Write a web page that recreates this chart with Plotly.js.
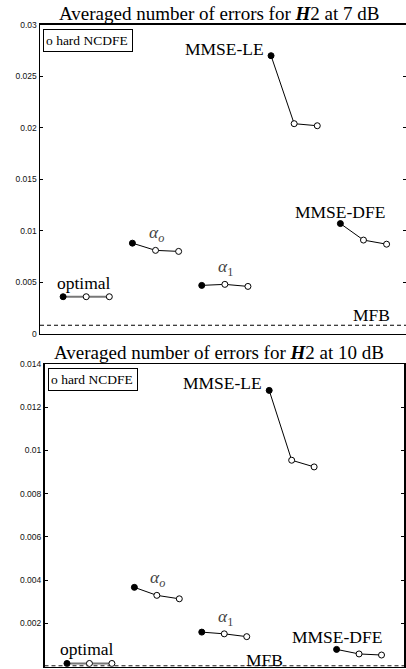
<!DOCTYPE html>
<html><head><meta charset="utf-8">
<script src="https://cdn.plot.ly/plotly-3.0.1.min.js"></script>
<style>html,body{margin:0;padding:0;background:#fff}</style>
</head><body><div id="chart" style="width:406px;height:669px"></div>
<script>
// ---- data ----
const groupLabels = ['optimal', '<i>α<sub>o</sub></i>', '<i>α</i><sub>1</sub>', 'MMSE-LE', 'MMSE-DFE'];
const groupX = [[1, 2, 3], [4, 5, 6], [7, 8, 9], [10, 11, 12], [13, 14, 15]];

const err7_optimal = [0.0036, 0.0036, 0.0036];
const err7_alpha0 = [0.0088, 0.0081, 0.0080];
const err7_alpha1 = [0.0047, 0.0048, 0.0046];
const err7_mmsele = [0.0270, 0.0204, 0.0202];
const err7_mmsedfe = [0.0107, 0.0091, 0.0087];
const mfb7 = 0.00083;

const err10_optimal = [0.00015, 0.00015, 0.00015];
const err10_alpha0 = [0.00367, 0.0033, 0.00314];
const err10_alpha1 = [0.0016, 0.00152, 0.00139];
const err10_mmsele = [0.01278, 0.00955, 0.00924];
const err10_mmsedfe = [0.0008, 0.00059, 0.00054];
const mfb10 = 0.00004;

const ticks7 = [0, 0.005, 0.01, 0.015, 0.02, 0.025, 0.03];
const ticks10 = [0, 0.002, 0.004, 0.006, 0.008, 0.01, 0.012, 0.014];

const titles = ['Averaged number of errors for <b><i>H</i></b>2 at 7 dB',
                'Averaged number of errors for <b><i>H</i></b>2 at 10 dB'];
const legendText = 'o hard NCDFE';
const mfbLabel = 'MFB';

// ---- build ----
const W = 406, H = 669;
const serif = "'Liberation Serif', 'Times New Roman', Times, serif";
const sans = "'Liberation Sans', Arial, Helvetica, sans-serif";

const panels = [
  {series: [err7_optimal, err7_alpha0, err7_alpha1, err7_mmsele, err7_mmsedfe], mfb: mfb7,
   ticks: ticks7, xa: 'x', ya: 'y', title: titles[0], mfbX: 0.905, mfbShift: -2},
  {series: [err10_optimal, err10_alpha0, err10_alpha1, err10_mmsele, err10_mmsedfe], mfb: mfb10,
   ticks: ticks10, xa: 'x2', ya: 'y2', title: titles[1], mfbX: 0.613, mfbShift: -6}
];

const traces = [];
const annotations = [];
panels.forEach((p, pi) => {
  traces.push({x: [0, 16.5], y: [p.mfb, p.mfb], xaxis: p.xa, yaxis: p.ya, mode: 'lines',
    line: {color: '#000', width: 1, dash: '4px,3px'}, hoverinfo: 'skip'});
  p.series.forEach((vals, gi) => {
    traces.push({x: groupX[gi], y: vals, xaxis: p.xa, yaxis: p.ya, mode: 'lines+markers',
      line: {color: gi === 0 ? '#777' : '#000', width: gi === 0 ? 2 : 1},
      marker: {size: 6, color: vals.map((v, i) => i === 0 ? '#000' : '#fff'),
               line: {color: '#000', width: 1}}});
    let a = {xref: p.xa, yref: p.ya, text: groupLabels[gi], showarrow: false,
             font: {family: serif, size: 17.5, color: '#000'}};
    if (gi === 0) Object.assign(a, {x: groupX[gi][1], y: vals[1], xanchor: 'center', yanchor: 'bottom', xshift: -2, yshift: 2});
    else if (gi === 1 || gi === 2) Object.assign(a, {x: groupX[gi][1], y: vals[1], xanchor: 'center', yanchor: 'bottom', xshift: 1, yshift: 3, font: {family: serif, size: 17.5, color: '#444'}});
    else if (gi === 3) Object.assign(a, {x: groupX[gi][0], y: vals[0], xanchor: 'right', yanchor: 'bottom', xshift: -5, yshift: -5});
    else Object.assign(a, {x: groupX[gi][0], y: vals[0], xanchor: 'center', yanchor: 'bottom', xshift: 0, yshift: 0});
    annotations.push(a);
  });
  annotations.push({xref: p.xa + ' domain', yref: p.ya, x: p.mfbX, y: p.mfb, xanchor: 'center', yanchor: 'bottom',
    yshift: p.mfbShift, text: mfbLabel, showarrow: false, font: {family: serif, size: 17.5, color: '#000'}});
  annotations.push({xref: 'paper', yref: p.ya + ' domain', x: 218.5 / W, y: 1, xanchor: 'center', yanchor: 'bottom',
    yshift: -1, text: p.title, showarrow: false, font: {family: serif, size: 19, color: '#000'}});
  annotations.push({xref: p.xa + ' domain', yref: p.ya + ' domain', x: 0, y: 1, xanchor: 'left', yanchor: 'top',
    xshift: 3, yshift: -4, text: legendText, showarrow: false, align: 'left', width: 84, height: 17,
    bordercolor: '#000', borderwidth: 1, borderpad: 2, bgcolor: '#fff',
    font: {family: serif, size: 13.5, color: '#000'}});
});

const yaxisBase = (ticks) => ({range: [0, ticks[ticks.length - 1]], tickvals: ticks, ticks: 'inside', ticklen: 3,
  tickcolor: '#000', showline: true, linecolor: '#000', linewidth: 1.5, mirror: 'ticks', showgrid: false,
  zeroline: false, tickfont: {family: sans, size: 8.5, color: '#111'}});
const xaxisBase = {showline: true, linecolor: '#000', linewidth: 1.5, mirror: true, showgrid: false,
  zeroline: false, showticklabels: false, ticks: ''};

const layout = {
  width: W, height: H, margin: {l: 0, r: 0, t: 0, b: 0}, showlegend: false,
  paper_bgcolor: '#fff', plot_bgcolor: '#fff',
  xaxis: Object.assign({}, xaxisBase, {domain: [40 / W, 1], range: [0, 15.84], anchor: 'y'}),
  yaxis: Object.assign({}, yaxisBase(ticks7), {domain: [(H - 333.8) / H, (H - 24.8) / H], anchor: 'x'}),
  xaxis2: Object.assign({}, xaxisBase, {domain: [44.5 / W, 404 / W], range: [0, 16], anchor: 'y2'}),
  yaxis2: Object.assign({}, yaxisBase(ticks10), {domain: [(H - 666.7) / H, (H - 364) / H], anchor: 'x2'}),
  annotations: annotations
};

Plotly.newPlot('chart', traces, layout, {displayModeBar: false, staticPlot: true});
</script></body></html>
